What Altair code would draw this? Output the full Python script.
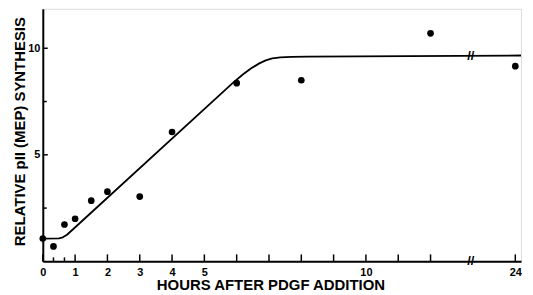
import altair as alt
import pandas as pd

# measured data points
hours = [0, 0.33, 0.67, 1, 1.5, 2, 3, 4, 6, 8, 12, 24]
synthesis = [1.07, 0.7, 1.73, 2.0, 2.85, 3.27, 3.04, 6.07, 8.36, 8.5, 10.7, 9.16]

# fitted curve
fit_hours = [0, 0.5, 0.62, 0.75, 5.9, 6.2, 6.45, 6.7, 6.9, 7.1, 7.35, 7.7, 8.2, 25.2]
fit_values = [1.07, 1.08, 1.13, 1.25, 8.4, 8.78, 9.06, 9.29, 9.43, 9.52, 9.57, 9.6, 9.61, 9.66]

# axis ticks and labels
x_major_ticks = [0, 1, 2, 3, 4, 5, 6, 7, 8, 9, 10, 11, 12, 24]
x_minor_ticks = [0.33, 0.67]
x_labels = [0, 1, 2, 3, 4, 5, 10, 24]
y_major_ticks = [5, 10]
y_minor_ticks = [2.5, 7.5]
y_labels = [5, 10]

# axis break markers
break_h = [14.65, 14.65]
break_v = [0, 9.64]

FONT = "Liberation Sans"

pts = pd.DataFrame({"h": hours, "v": synthesis})
fit = pd.DataFrame({"h": fit_hours, "v": fit_values})
xmaj = pd.DataFrame({"h": x_major_ticks})
xmin = pd.DataFrame({"h": x_minor_ticks})
ymaj = pd.DataFrame({"v": y_major_ticks})
ymin = pd.DataFrame({"v": y_minor_ticks})
brk = pd.DataFrame({"h": break_h, "v": break_v})

H = 254
xs = alt.Scale(domain=[0, 13, 25.2], range=[0, 422.5, 481], nice=False, zero=False)
ys = alt.Scale(domain=[0, 11.85], nice=False, zero=False)

x_axis = alt.Axis(
    values=x_labels, title="HOURS AFTER PDGF ADDITION", ticks=False, tickSize=0,
    grid=False, labelPadding=5, labelFontSize=11, labelFontWeight="bold",
    labelFont=FONT, labelColor="black", domainColor="black", domainWidth=2,
    titleFont=FONT, titleFontSize=15, titleFontWeight="bold", titleColor="black",
    titleX=229, titleY=28, titleAlign="center", titleBaseline="alphabetic",
    labelFlush=False, labelOverlap=False,
)
y_axis = alt.Axis(
    values=y_labels, title="RELATIVE pII (MEP) SYNTHESIS", ticks=False, tickSize=0,
    grid=False, labelPadding=3, labelFontSize=11, labelFontWeight="bold",
    labelFont=FONT, labelColor="black", domainColor="black", domainWidth=2,
    titleFont=FONT, titleFontSize=15, titleFontWeight="bold", titleColor="black",
    titleAngle=270, titleX=-23, titleY=123, titleAlign="center", titleBaseline="middle",
)

points = alt.Chart(pts).mark_circle(size=45, color="black", opacity=1).encode(
    x=alt.X("h:Q", scale=xs, axis=x_axis),
    y=alt.Y("v:Q", scale=ys, axis=y_axis),
)

line = alt.Chart(fit).mark_line(color="black", strokeWidth=1.8, strokeJoin="round").encode(
    x=alt.X("h:Q", scale=xs),
    y=alt.Y("v:Q", scale=ys),
)

xt_major = alt.Chart(xmaj).mark_rule(color="black", strokeWidth=1.5).encode(
    x=alt.X("h:Q", scale=xs), y=alt.value(H), y2=alt.value(H - 7)
)
xt_minor = alt.Chart(xmin).mark_rule(color="black", strokeWidth=1.5).encode(
    x=alt.X("h:Q", scale=xs), y=alt.value(H), y2=alt.value(H - 4)
)
yt_major = alt.Chart(ymaj).mark_rule(color="black", strokeWidth=1.5).encode(
    y=alt.Y("v:Q", scale=ys), x=alt.value(0), x2=alt.value(5)
)
yt_minor = alt.Chart(ymin).mark_rule(color="black", strokeWidth=1.5).encode(
    y=alt.Y("v:Q", scale=ys), x=alt.value(0), x2=alt.value(4)
)

breaks = alt.Chart(brk).mark_text(
    text="//", font=FONT, fontSize=13, fontWeight="bold", color="black",
    align="center", baseline="middle",
).encode(x=alt.X("h:Q", scale=xs), y=alt.Y("v:Q", scale=ys))

chart = alt.layer(line, points, xt_major, xt_minor, yt_major, yt_minor, breaks).properties(
    width=481, height=H,
    autosize=alt.AutoSizeParams(type="none"),
    padding={"left": 35, "top": 0, "right": 4, "bottom": 33},
).configure_view(stroke=None).configure(background="white")

chart.save("out.html", embed_options={"renderer": "svg", "actions": False})
